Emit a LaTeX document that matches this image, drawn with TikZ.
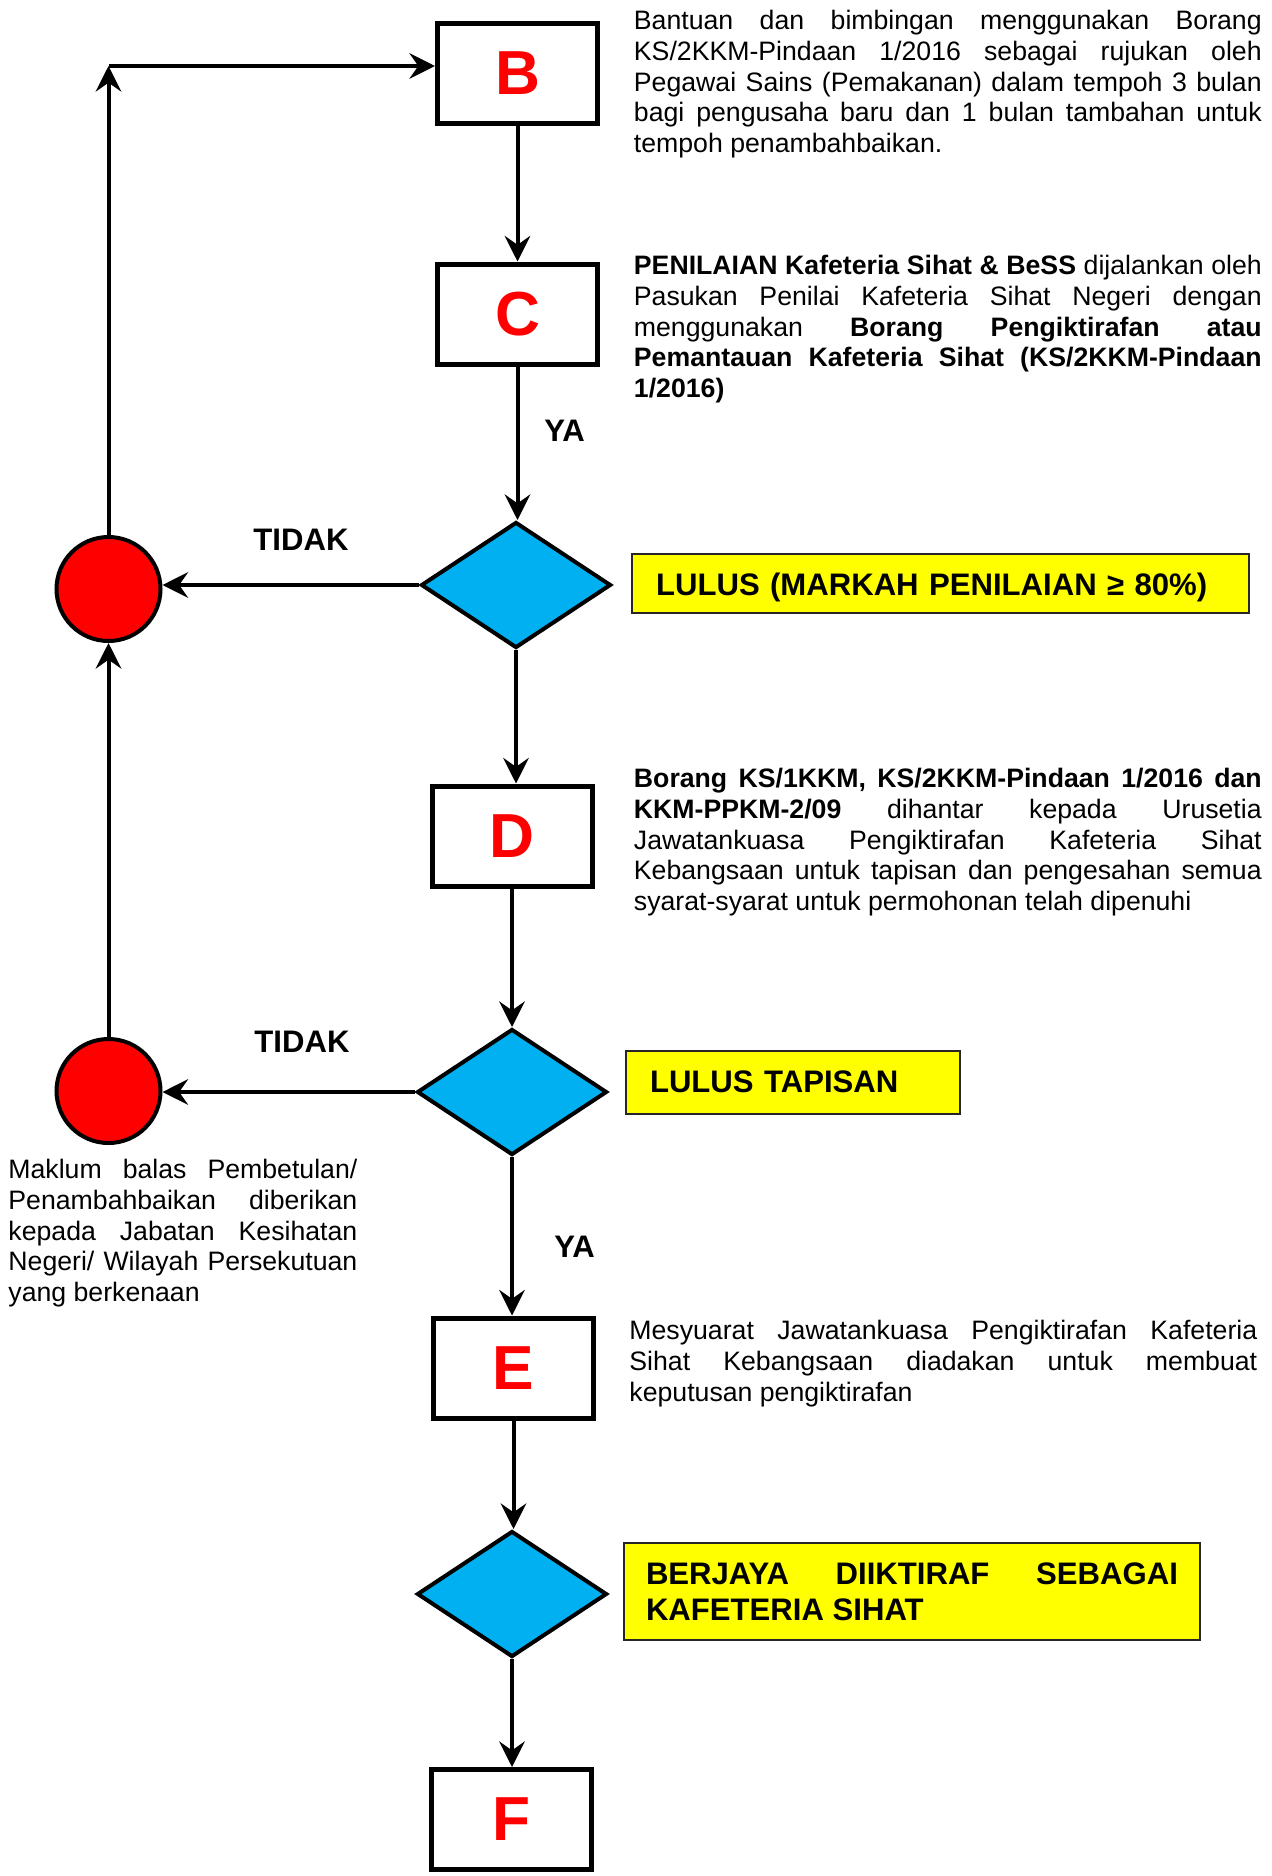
\documentclass[tikz,border=0pt]{standalone}
\usepackage{fontspec}
\setmainfont{Liberation Sans}
\usetikzlibrary{arrows.meta,shapes.geometric}
\definecolor{diablue}{RGB}{0,176,240}
\definecolor{boxred}{RGB}{255,0,0}
\definecolor{ybox}{RGB}{255,255,0}
\hyphenpenalty=10000
\exhyphenpenalty=10000
\tolerance=10000
\begin{document}
\begin{tikzpicture}[x=0.45pt,y=-0.45pt,
  >={Stealth[length=11.5pt,width=11.5pt,inset=4pt]},
  stepbox/.style={draw,line width=2.25pt,minimum width=72pt,minimum height=45pt,inner sep=0pt,text=boxred,font=\fontsize{28}{30}\selectfont\bfseries},
  decision/.style={diamond,draw,line width=1.8pt,fill=diablue,minimum width=85.5pt,minimum height=56.7pt,inner sep=0pt},
  reject/.style={circle,draw,line width=1.8pt,fill=boxred,minimum size=46.8pt,inner sep=0pt},
  note/.style={anchor=base west,inner sep=0pt,text width=282.5pt,align=justify,font=\fontsize{12}{13.85}\selectfont},
  result/.style={draw=black!85,line width=0.8pt,fill=ybox,inner sep=0pt,align=left,font=\fontsize{14}{16.3}\selectfont\bfseries},
  lbl/.style={anchor=base west,inner sep=0pt,font=\fontsize{14}{16}\selectfont\bfseries},
  flow/.style={->,line width=1.8pt},
  loop/.style={->,line width=1.8pt},
  back/.style={->,line width=2.2pt}
]
\useasboundingbox (0,0) rectangle (1271,1876);

% process boxes
\node[stepbox] (B) at (517.5,73.5) {B};
\node[stepbox] (C) at (517.5,314) {C};
\node[decision] (d1) at (516,585) {};
\node[stepbox] (D) at (512,836) {D};
\node[decision] (d2) at (512,1092) {};
\node[stepbox] (E) at (513.5,1368) {E};
\node[decision] (d3) at (512,1594) {};
\node[stepbox] (F) at (511,1819.5) {F};
\node[reject] (r1) at (108.5,589) {};
\node[reject] (r2) at (108.5,1091) {};
\coordinate (corner) at (108.5,66);

% connectors
\draw[flow] (B.south) -- (B.south |- C.north);
\draw[flow] (C.south) -- (C.south |- d1.north);
\draw[flow] (d1.south) -- (d1.south |- D.north);
\draw[flow] (D.south) -- (D.south |- d2.north);
\draw[flow] (d2.south) -- (d2.south |- E.north);
\draw[flow] (E.south) -- (E.south |- d3.north);
\draw[flow] (d3.south) -- (d3.south |- F.north);
\draw[back] (d1.west) -- (d1.west -| r1.east);
\draw[back] (d2.west) -- (d2.west -| r2.east);
\draw[loop] (r2.north) -- (r1.south);
\draw[loop] (r1.north) -- (corner);
\draw[loop] (corner) -- (corner -| B.west);

% labels
\node[lbl] (ya1) at (544,441) {YA};
\node[lbl] (tidak1) at (253,550) {TIDAK};
\node[lbl] (tidak2) at (254,1052) {TIDAK};
\node[lbl] (ya2) at (554,1257) {YA};

% result boxes
\node[result,minimum width=277.6pt,minimum height=26.55pt,text width=256pt,text height=10.35pt,text depth=0pt] (y1) at (940.5,583.5) {LULUS (MARKAH PENILAIAN ≥ 80\%)};
\node[result,minimum width=150.3pt,minimum height=28.35pt,text width=128.7pt,text height=9pt,text depth=0pt] (y2) at (793,1082.5) {LULUS TAPISAN};
\node[result,align=justify,minimum width=259.2pt,minimum height=43.65pt,text width=239.4pt] (y3) at (912,1591.5) {BERJAYA DIIKTIRAF SEBAGAI\linebreak KAFETERIA SIHAT};

% notes
\node[note] (tb) at (633.5,29.5) {Bantuan dan bimbingan menggunakan Borang\linebreak KS/2KKM-Pindaan 1/2016 sebagai rujukan oleh\linebreak Pegawai Sains (Pemakanan) dalam tempoh 3 bulan\linebreak bagi pengusaha baru dan 1 bulan tambahan untuk\linebreak tempoh penambahbaikan.};
\node[note] (tc) at (633.5,274.5) {\textbf{PENILAIAN Kafeteria Sihat \& BeSS} dijalankan oleh\linebreak Pasukan Penilai Kafeteria Sihat Negeri dengan\linebreak menggunakan \textbf{Borang Pengiktirafan atau\linebreak Pemantauan Kafeteria Sihat (KS/2KKM-Pindaan\linebreak 1/2016)}};
\node[note] (td) at (633.5,787.5) {\textbf{Borang KS/1KKM, KS/2KKM-Pindaan 1/2016 dan\linebreak KKM-PPKM-2/09} dihantar kepada Urusetia\linebreak Jawatankuasa Pengiktirafan Kafeteria Sihat\linebreak Kebangsaan untuk tapisan dan pengesahan semua\linebreak syarat-syarat untuk permohonan telah dipenuhi};
\node[note] (te) at (629,1339.5) {Mesyuarat Jawatankuasa Pengiktirafan Kafeteria\linebreak Sihat Kebangsaan diadakan untuk membuat\linebreak keputusan pengiktirafan};
\node[note,text width=157pt] (tm) at (8,1178.5) {Maklum balas Pembetulan/\linebreak Penambahbaikan diberikan\linebreak kepada Jabatan Kesihatan\linebreak Negeri/ Wilayah Persekutuan\linebreak yang berkenaan};
\end{tikzpicture}
\end{document}
